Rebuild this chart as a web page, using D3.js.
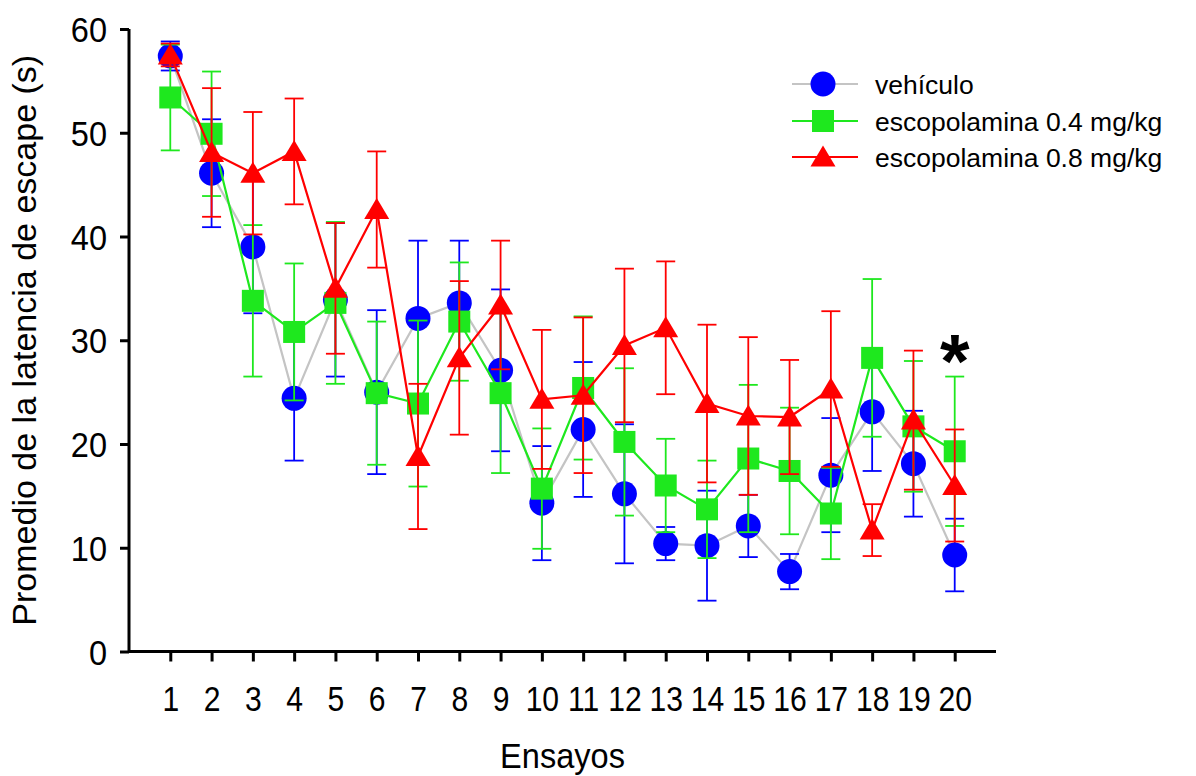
<!DOCTYPE html>
<html>
<head>
<meta charset="utf-8">
<script src="https://cdn.jsdelivr.net/npm/d3@7"></script>
<style>
  html, body { margin: 0; padding: 0; background: #ffffff; }
  svg { display: block; }
  text { font-family: "Liberation Sans", Arial, sans-serif; fill: #000; }
</style>
</head>
<body>
<svg id="chart" width="1196" height="776"></svg>
<script>
// ---- Data ----
const trials = [1,2,3,4,5,6,7,8,9,10,11,12,13,14,15,16,17,18,19,20];
const yTicks = [0,10,20,30,40,50,60];
const seriesNames = ["vehículo", "escopolamina 0.4 mg/kg", "escopolamina 0.8 mg/kg"];

const vehiculo    = [57.4,46.1,39.0,24.4,33.9,25.0,32.1,33.6,27.1,14.3,21.4,15.2,10.4,10.2,12.1,7.7,17.0,23.1,18.1,9.3];
const vehiculoErr = [1.4,5.2,6.4,6.0,7.4,7.9,7.5,6.0,7.8,5.5,6.5,6.7,1.6,5.3,3.0,1.7,5.5,5.7,5.1,3.5];

const esc04    = [53.4,49.9,33.8,30.8,33.6,24.9,23.9,31.8,24.9,15.7,25.4,20.2,16.0,13.7,18.6,17.4,13.3,28.3,21.7,19.3];
const esc04Err = [5.1,6.0,7.3,6.6,7.8,6.9,8.0,5.7,7.7,5.8,6.9,7.1,4.5,4.7,7.1,6.1,4.4,7.6,6.3,7.2];

const esc08    = [57.5,48.1,46.1,48.2,35.0,42.6,18.8,28.3,33.4,24.3,24.7,29.5,31.2,23.9,22.7,22.6,25.3,11.7,22.3,16.0];
const esc08Err = [1.1,6.2,5.9,5.1,6.3,5.6,7.0,7.4,6.2,6.7,7.5,7.4,6.4,7.6,7.6,5.5,7.5,2.5,6.7,5.4];

const significantTrial = 20;
const significantValue = 25.5;  // baseline of the asterisk in data units

// ---- Styling ----
const series = [
  { name: seriesNames[0], values: vehiculo, errs: vehiculoErr, line: "#c4c4c4", color: "#0000ff", shape: "circle" },
  { name: seriesNames[1], values: esc04,    errs: esc04Err,    line: "#1ee81e", color: "#1ee81e", shape: "square" },
  { name: seriesNames[2], values: esc08,    errs: esc08Err,    line: "#ff0000", color: "#ff0000", shape: "triangle" }
];

const svg = d3.select("#chart");

const x = d3.scaleLinear().domain([0, 21]).range([129, 996]);
const y = d3.scaleLinear().domain([0, 60]).range([651.5, 29]);

const tickFont = 35, xTickSX = 0.86, yTickSX = 0.93;

// ---- Axes ----
const yAxis = d3.axisLeft(y).tickValues(yTicks).tickSize(9).tickFormat(d3.format("d"));
const gy = svg.append("g").attr("transform", `translate(${x(0)},0)`).call(yAxis);
gy.select(".domain").attr("stroke", "#000").attr("stroke-width", 3).attr("d", `M0,${y(60)}V${y(0)}`);
gy.selectAll(".tick line").attr("stroke", "#000").attr("stroke-width", 3);
gy.selectAll(".tick text")
  .style("font-size", tickFont + "px")
  .attr("x", -22 / yTickSX)
  .attr("dy", "0.36em")
  .attr("transform", `scale(${yTickSX},1)`);

const xAxis = d3.axisBottom(x).tickValues(trials).tickSize(10).tickFormat(d3.format("d"));
const gx = svg.append("g").attr("transform", `translate(0,${y(0)})`).call(xAxis);
gx.select(".domain").attr("stroke", "#000").attr("stroke-width", 3).attr("d", `M${x(0)},0H${x(21)}`);
gx.selectAll(".tick line").attr("stroke", "#000").attr("stroke-width", 3);
gx.selectAll(".tick text")
  .style("font-size", tickFont + "px")
  .attr("y", 60).attr("dy", "0")
  .attr("transform", `scale(${xTickSX},1)`);

// Axis titles
svg.append("text")
  .attr("transform", `translate(36,${(y(0) + y(60)) / 2}) rotate(-90)`)
  .attr("text-anchor", "middle")
  .style("font-size", "34px")
  .text("Promedio de la latencia de escape (s)");

svg.append("text")
  .attr("transform", `translate(${(x(0) + x(21)) / 2},768) scale(0.93,1)`)
  .attr("text-anchor", "middle")
  .style("font-size", "35px")
  .text("Ensayos");

// ---- Marker helper ----
const circleR = 12.5, squareS = 22, triW = 25, triH = 21;
function drawMarker(g, shape, cx, cy, color) {
  if (shape === "circle") {
    g.append("circle").attr("cx", cx).attr("cy", cy).attr("r", circleR).attr("fill", color);
  } else if (shape === "square") {
    g.append("rect").attr("x", cx - squareS / 2).attr("y", cy - squareS / 2)
      .attr("width", squareS).attr("height", squareS).attr("fill", color);
  } else {
    const top = cy - triH * 0.55, bot = cy + triH * 0.45;
    g.append("path").attr("d", `M${cx},${top}L${cx + triW / 2},${bot}L${cx - triW / 2},${bot}Z`).attr("fill", color);
  }
}

// ---- Series ----
const capHalf = 9.5;
series.forEach(s => {
  const g = svg.append("g");
  const pts = trials.map((t, i) => ({ t, v: s.values[i], e: s.errs[i] }));
  g.append("path")
    .datum(pts)
    .attr("fill", "none")
    .attr("stroke", s.line)
    .attr("stroke-width", 2.2)
    .attr("d", d3.line().x(d => x(d.t)).y(d => y(d.v)));
  pts.forEach(d => {
    const cx = x(d.t), yt = y(d.v + d.e), yb = y(d.v - d.e);
    g.append("line").attr("x1", cx).attr("x2", cx).attr("y1", yt).attr("y2", yb)
      .attr("stroke", s.color).attr("stroke-width", 1.8);
    g.append("line").attr("x1", cx - capHalf).attr("x2", cx + capHalf).attr("y1", yt).attr("y2", yt)
      .attr("stroke", s.color).attr("stroke-width", 1.8);
    g.append("line").attr("x1", cx - capHalf).attr("x2", cx + capHalf).attr("y1", yb).attr("y2", yb)
      .attr("stroke", s.color).attr("stroke-width", 1.8);
  });
  pts.forEach(d => drawMarker(g, s.shape, x(d.t), y(d.v), s.color));
});

// ---- Significance asterisk ----
svg.append("text")
  .attr("x", x(significantTrial))
  .attr("y", y(significantValue))
  .attr("text-anchor", "middle")
  .style("font-size", "76px")
  .style("font-weight", "bold")
  .text("*");

// ---- Legend ----
const legend = svg.append("g");
const legY = [84, 121, 157];
series.forEach((s, i) => {
  const ly = legY[i];
  legend.append("line").attr("x1", 792).attr("x2", 858).attr("y1", ly).attr("y2", ly)
    .attr("stroke", s.line).attr("stroke-width", 2.2);
  drawMarker(legend, s.shape, 823, ly, s.color);
  legend.append("text").attr("x", 875).attr("y", ly).attr("dy", "0.36em")
    .style("font-size", "26.5px").text(s.name);
});
</script>
</body>
</html>
